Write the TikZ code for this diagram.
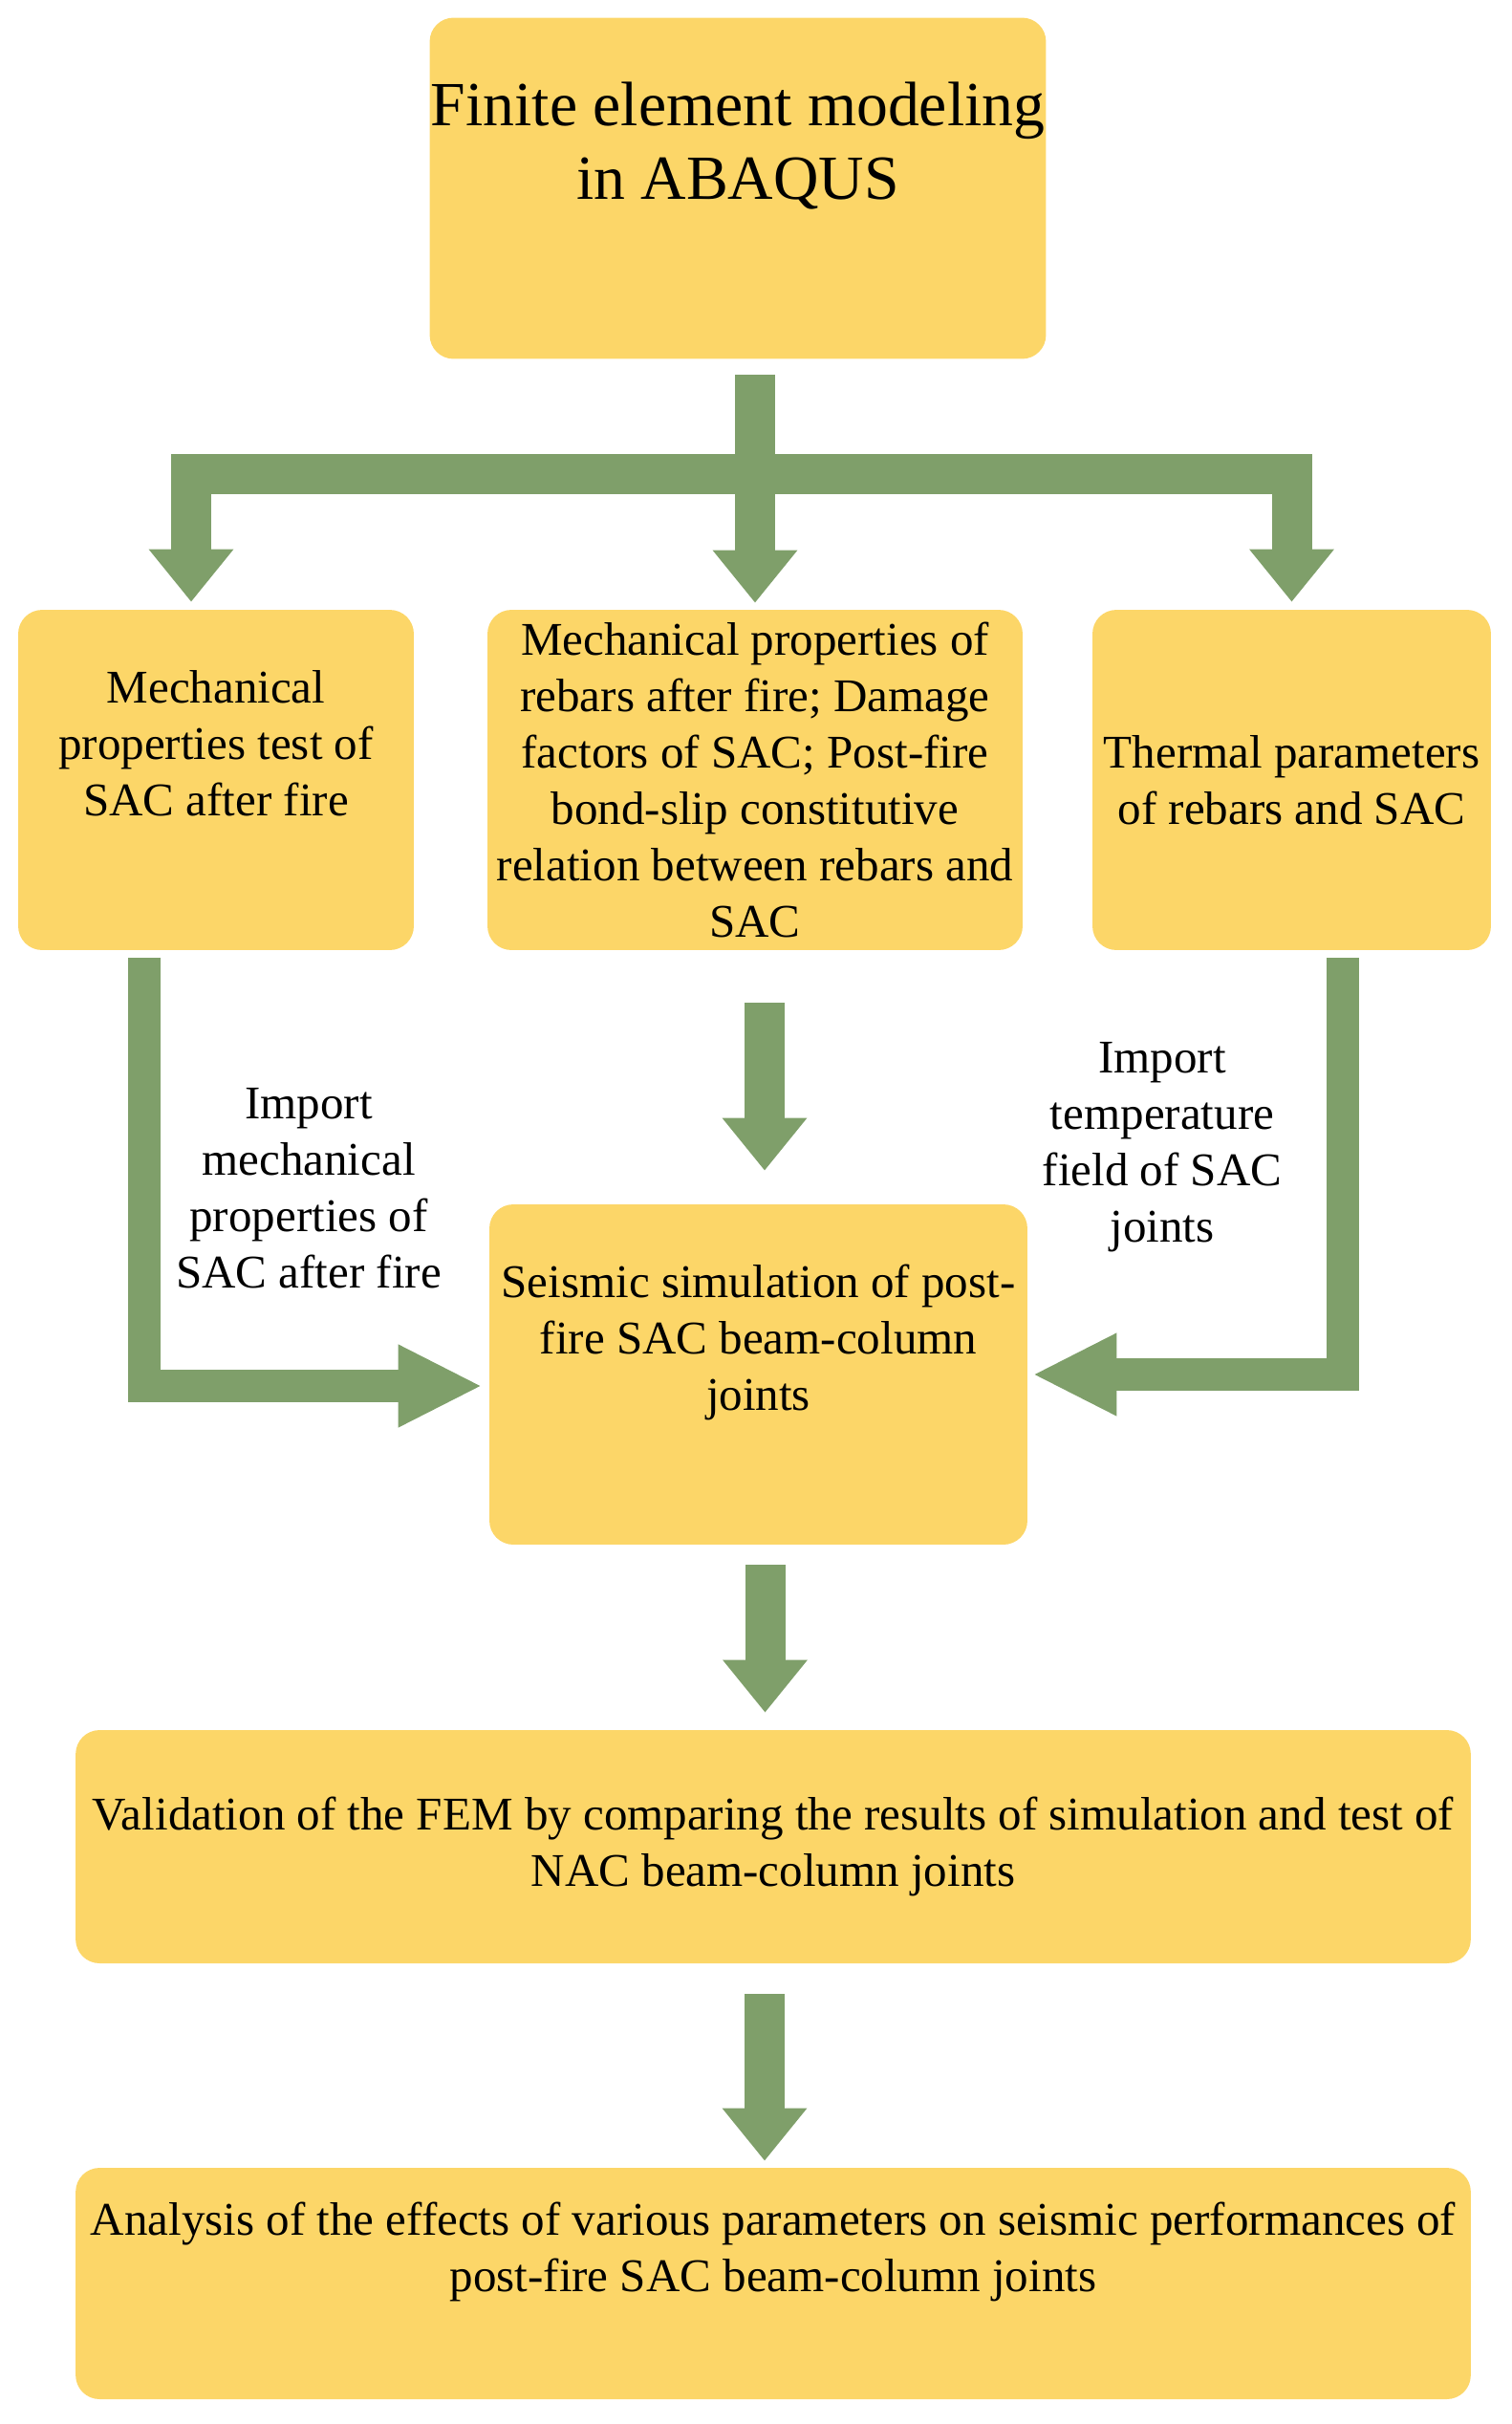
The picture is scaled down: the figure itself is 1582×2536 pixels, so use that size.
\documentclass[tikz,border=0pt]{standalone}
\usepackage{fontspec}
\setmainfont{Liberation Serif}
\usetikzlibrary{arrows.meta}
\definecolor{boxyellow}{RGB}{252,214,104}
\definecolor{flowgreen}{RGB}{127,159,106}
\tikzset{box/.style={fill=boxyellow, rounded corners=0.5cm, align=center, inner sep=0pt,
  font=\fontsize{27.9}{33.6}\selectfont}}
\tikzset{flow/.style={draw=flowgreen, line width=0.84cm, -{Triangle[width=1.7cm,length=1.1cm]}}}
\tikzset{sideflow/.style={draw=flowgreen, line width=0.68cm, -{Triangle[width=1.6cm,length=1.76cm]}}}
\tikzset{note/.style={align=center, font=\fontsize{27.9}{33.6}\selectfont}}

\begin{document}
\begin{tikzpicture}[x=0.02cm, y=-0.02cm]
      \useasboundingbox (0, 0) rectangle (1582, 2536);

      \node [box, minimum width=12.9cm, minimum height=7.14cm, font=\fontsize{37.4}{43.8}\selectfont] (fem) at (772, 197) {Finite element modeling\\in ABAQUS\\\strut};

      \node [box, minimum width=8.28cm, minimum height=7.12cm] (mech) at (226, 816) {Mechanical\\properties test of\\SAC after fire\\\strut};
      \node [box, minimum width=11.2cm, minimum height=7.12cm] (rebar) at (790, 816) {Mechanical properties of\\rebars after fire; Damage\\factors of SAC; Post-fire\\bond-slip constitutive\\relation between rebars and\\SAC};
      \node [box, minimum width=8.34cm, minimum height=7.12cm] (therm) at (1351.5, 816) {Thermal parameters\\of rebars and SAC};

      \node [box, minimum width=11.26cm, minimum height=7.12cm] (seis) at (793.5, 1438) {Seismic simulation of post-\\fire SAC beam-column\\joints\\\strut};
      \node [box, minimum width=29.2cm, minimum height=4.88cm] (valid) at (809, 1932) {Validation of the FEM by comparing the results of simulation and test of\\NAC beam-column joints};
      \node [box, minimum width=29.2cm, minimum height=4.84cm] (anal) at (809, 2389) {Analysis of the effects of various parameters on seismic performances of\\post-fire SAC beam-column joints\\\strut};

      \coordinate (split) at (790, 496);
      \draw [flow, shorten <=0.32cm, shorten >=0.14cm] (fem.south -| rebar.north) -- (rebar.north);
      \draw [flow, shorten >=0.16cm] (split) -| ([xshift=-0.52cm]mech.north);
      \draw [flow, shorten >=0.16cm] (split) -| (therm.north);

      \draw [flow, shorten <=1.1cm, shorten >=0.7cm] ([xshift=0.2cm]rebar.south) -- ([xshift=0.2cm]rebar.south |- seis.north);
      \draw [flow, shorten <=0.42cm, shorten >=0.36cm] ([xshift=0.14cm]seis.south) -- ([xshift=0.14cm]seis.south |- valid.north);
      \draw [flow, shorten <=0.64cm, shorten >=0.14cm] ([xshift=-0.18cm]valid.south) -- ([xshift=-0.18cm]valid.south |- anal.north);

      \draw [sideflow, shorten <=0.16cm, shorten >=0.14cm] ([xshift=-1.5cm]mech.south) |- ([yshift=-0.24cm]seis.west);
      \draw [sideflow, shorten <=0.16cm, shorten >=0.1cm] ([xshift=1.07cm]therm.south) |- (seis.east);

      \node [note] (impmech) at (323, 1243) {Import\\mechanical\\properties of\\SAC after fire};
      \node [note] (imptemp) at (1216, 1200) {Import\\temperature\\field of SAC\\joints};
    \end{tikzpicture}
\end{document}
